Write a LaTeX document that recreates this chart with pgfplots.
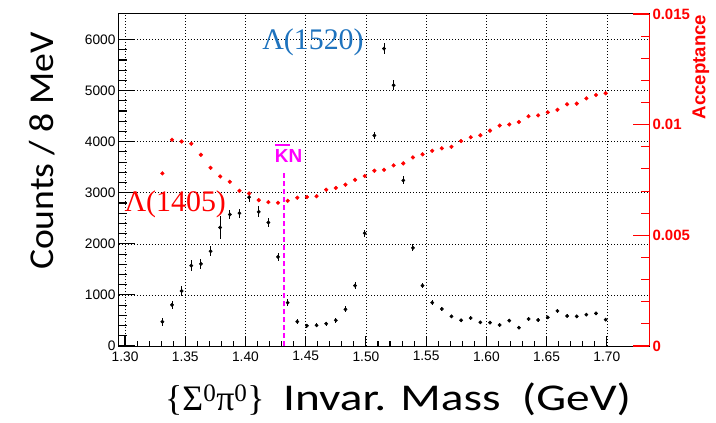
\documentclass[border=0pt]{standalone}
\usepackage{pgfplots}
\pgfplotsset{compat=1.18}
\usepackage{pgfplotstable}
\usepackage{fontspec}
\setmainfont{Liberation Sans}
\newfontfamily\carlito{Carlito}
\newfontfamily\tms{Liberation Serif}
\definecolor{lblue}{RGB}{30,115,190}
\definecolor{mag}{RGB}{255,0,255}
\definecolor{rred}{RGB}{255,0,0}

\pgfplotstableread{
x y e
1.331 476 80
1.339 804 85
1.347 1078 90
1.355 1574 110
1.363 1608 105
1.371 1855 95
1.379 2320 220
1.387 2575 90
1.395 2600 90
1.403 2914 92
1.411 2627 105
1.419 2418 90
1.427 1745 72
1.435 849 72
1.443 476 45
1.451 398 40
1.459 405 40
1.467 437 40
1.475 503 45
1.483 718 60
1.491 1182 65
1.499 2208 72
1.507 4122 75
1.515 5824 114
1.523 5104 98
1.531 3241 78
1.539 1921 69
1.547 1182 52
1.555 849 45
1.563 725 40
1.571 581 35
1.579 503 35
1.587 548 35
1.595 463 30
1.603 457 30
1.611 411 30
1.619 496 30
1.627 359 30
1.635 529 30
1.643 509 30
1.651 561 30
1.659 686 35
1.667 588 30
1.675 581 30
1.683 614 30
1.691 640 30
1.699 516 30
}\counts

\pgfplotstableread{
x a
1.331 0.00780
1.339 0.00932
1.347 0.00924
1.355 0.00914
1.363 0.00864
1.371 0.00805
1.379 0.00766
1.387 0.00742
1.395 0.00701
1.403 0.00689
1.411 0.00659
1.419 0.00650
1.427 0.00647
1.435 0.00656
1.443 0.00670
1.451 0.00673
1.459 0.00677
1.467 0.00706
1.475 0.00714
1.483 0.00729
1.491 0.00751
1.499 0.00768
1.507 0.00792
1.515 0.00796
1.523 0.00816
1.531 0.00825
1.539 0.00852
1.547 0.00866
1.555 0.00882
1.563 0.00893
1.571 0.00900
1.579 0.00926
1.587 0.00943
1.595 0.00952
1.603 0.00973
1.611 0.00996
1.619 0.01001
1.627 0.01012
1.635 0.01038
1.643 0.01042
1.651 0.01056
1.659 0.01067
1.667 0.01092
1.675 0.01095
1.683 0.01119
1.691 0.01134
1.699 0.01142
}\acc

\begin{document}
\begin{tikzpicture}
% main axis: left y, grid, counts
\begin{axis}[
  scale only axis, width=530bp, height=332bp,
  xmin=1.295, xmax=1.735, ymin=0, ymax=6500,
  clip=false,
  axis line style={black, line width=1bp},
  xtick={1.30,1.35,1.40,1.45,1.50,1.55,1.60,1.65,1.70},
  xticklabels={1.30,1.35,1.40,1.45,1.50,1.55,1.60,1.65,1.70},
  ytick={0,1000,2000,3000,4000,5000,6000},
  yticklabels={0,1000,2000,3000,4000,5000,6000},
  minor y tick num=4,
  xtick pos=left, ytick pos=left,
  tick align=inside,
  major tick length=16bp, minor tick length=8bp,
  ytick style={black, line width=1.1bp},
  xtick style={draw=none},
  xmajorgrids, ymajorgrids,
  major grid style={black, line width=0.6bp, dash pattern=on 1bp off 2bp},
  /pgf/number format/assume math mode=true,
  ticklabel style={font=\fontsize{13.8}{16}\selectfont},
  xticklabel style={yshift=-2bp},
]
\addplot[only marks, mark=*, mark size=1.7bp, black,
  error bars/.cd, y dir=both, y explicit,
  error bar style={line width=0.9bp, black}, error mark=none]
  table[x=x, y=y, y error=e]{\counts};
\addplot[mag, line width=1.6bp, dash pattern=on 5bp off 3bp]
  coordinates {(1.432,0) (1.432,3380)};
\node[font=\tms\fontsize{30}{32}\selectfont, text=lblue] at (axis cs:1.456,5950) {Λ(1520)};
\node[font=\tms\fontsize{30}{32}\selectfont, text=rred] at (axis cs:1.3417,2770) {Λ(1405)};
\node[font=\bfseries\fontsize{19}{21}\selectfont, text=mag] at (axis cs:1.4358,3770)
  {\rlap{\rule[0.86em]{0.8em}{0.12em}}KN};
\coordinate (bl) at (rel axis cs:0,0);
\coordinate (tr) at (rel axis cs:1,1);
\end{axis}
% bottom x ticks
\begin{axis}[
  scale only axis, width=530bp, height=332bp,
  xmin=1.295, xmax=1.735, ymin=0, ymax=6500,
  axis x line*=bottom, axis y line=none,
  x axis line style={draw=none},
  xtick={1.30,1.35,1.40,1.45,1.50,1.55,1.60,1.65,1.70},
  xticklabels={},
  minor x tick num=4,
  tick align=inside,
  major tick length=10bp, minor tick length=5bp,
  xtick style={black, line width=1.1bp},
]
\end{axis}
% right acceptance axis
\begin{axis}[
  scale only axis, width=530bp, height=332bp,
  xmin=1.295, xmax=1.735, ymin=0, ymax=0.015,
  axis y line*=right, axis x line=none,
  y axis line style={rred, line width=1bp, -},
  scaled y ticks=false,
  ytick={0,0.005,0.01,0.015},
  yticklabels={0,0.005,0.01,0.015},
  minor y tick num=4,
  tick align=inside,
  major tick length=16bp, minor tick length=8bp,
  ytick style={rred, line width=1.1bp},
  /pgf/number format/assume math mode=true,
  yticklabel style={font=\bfseries\fontsize{15}{17}\selectfont, text=rred},
]
\addplot[only marks, mark=*, mark size=1.9bp, rred] table[x=x, y=a]{\acc};
\end{axis}
% titles
\node[rotate=90, font=\carlito\fontsize{35}{40}\selectfont, inner sep=0]
  at ([shift={(-76.5bp,195bp)}]bl) {\scalebox{1.08}[1]{Counts / 8 MeV}};
\node[anchor=base west, inner sep=0, font=\tms\fontsize{36}{40}\selectfont]
  at ([shift={(46bp,-64bp)}]bl) {\{Σ\textsuperscript{0}π\textsuperscript{0}\}};
\node[anchor=base west, inner sep=0, font=\carlito\fontsize{38}{42}\selectfont]
  at ([shift={(164bp,-64bp)}]bl) {\scalebox{1.25}[1]{Invar. Mass\ \ (GeV)}};
\node[rotate=90, font=\bfseries\fontsize{18.7}{21}\selectfont, text=rred, inner sep=0]
  at ([shift={(52bp,-53bp)}]tr) {Acceptance};
\pgfresetboundingbox
\path ([shift={(-119bp,-77bp)}]bl) rectangle ([shift={(67bp,14bp)}]tr);
\end{tikzpicture}
\end{document}
